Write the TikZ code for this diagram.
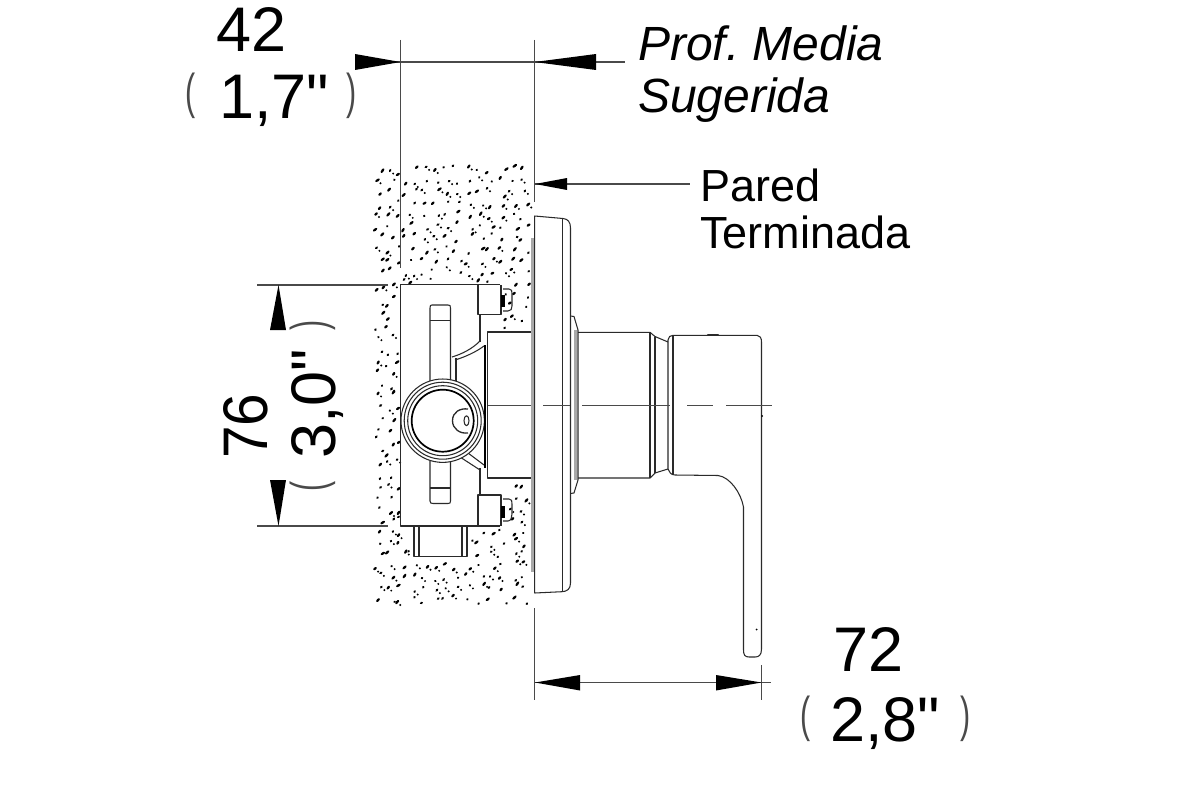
\documentclass[tikz,border=0pt]{standalone}
\usepackage{fontspec}
\setmainfont{Liberation Sans}
\newfontfamily\plainf{Liberation Sans}
\definecolor{ink}{HTML}{2A2A2A}
\definecolor{greyband}{HTML}{A8A8A8}
\definecolor{dimgrey}{HTML}{4A4A4A}
\newcommand{\thinparen}[1]{\scalebox{0.62}[1]{#1}}
\tikzset{
  outl/.style={draw=ink,line width=1.05pt,line join=round},
  thick outl/.style={draw=black,line width=1.7pt},
  band/.style={draw=greyband,line width=3pt},
  dimline/.style={draw=dimgrey,line width=1.05pt},
  centre/.style={draw=dimgrey,line width=1pt},
  tip/.style={fill=black,draw=none},
  bigtxt/.style={inner sep=0pt,anchor=base west,text=black,font=\fontsize{63}{63}\selectfont\plainf},
  medtxt/.style={inner sep=0pt,anchor=base west,text=black,font=\frenchspacing\fontsize{48}{48}\selectfont\itshape},
  smalltxt/.style={inner sep=0pt,anchor=base west,text=black,font=\fontsize{45}{45}\selectfont},
  paren/.style={inner sep=0pt,anchor=center,text=dimgrey,font=\fontsize{49}{49}\selectfont},
  grain/.style={fill=black,draw=none}
}
\begin{document}
\begin{tikzpicture}[x=1pt,y=-1pt]
\useasboundingbox (0,0) rectangle (1200,800);
\fill[white] (0,0) rectangle (1200,800);
% stipple of the wall: jittered grid
\pgfmathsetseed{4217}
\foreach \gx in {0,...,13}{
\foreach \gy in {0,...,38}{
  \pgfmathsetmacro{\px}{379+11.2*\gx+9*rnd-4.5}
  \pgfmathsetmacro{\py}{170+11.3*\gy+9*rnd-4.5}
  \pgfmathsetmacro{\keep}{ (\px>399 && \px<504 && \py>283 && \py<528) || (\px>412 && \px<470 && \py>=528 && \py<559) || (\px>=504 && \py>328 && \py<482) ? 0 : 1}
  \pgfmathsetmacro{\ang}{30+30*rnd}
  \pgfmathsetmacro{\ra}{1.2+1.5*rnd}
  \pgfmathsetmacro{\rb}{rnd}
  \ifdim\keep pt>0.5pt
    \fill[grain] (\px,\py) ellipse [x radius=\ra, y radius=1.25, rotate=\ang];
    \ifdim\rb pt>0.65pt
      \fill[grain] (\px+3,\py+3) circle (1.1);
    \fi
  \fi
}}
% coordinates of dimensions
\coordinate (a1) at (400.5,62); \coordinate (a2) at (534.5,62);
\coordinate (b1) at (535,184);
\coordinate (c1) at (278.5,285); \coordinate (c2) at (278.5,526);
\coordinate (d1) at (535,682.5); \coordinate (d2) at (761.5,682.5);
% extension lines
\draw[dimline] (400.5,40) -- (400.5,268);
\draw[dimline] (534.5,40) -- (534.5,202);
\draw[dimline] (534.7,608) -- (534.7,700);
\draw[dimline] (761.5,665) -- (761.5,700);
\draw[dimline] (257,285) -- (388,285);
\draw[dimline] (257,526) -- (388,526);
% dimension shafts
\draw[dimline] (355,62) -- (625,62);
\draw[dimline] (b1) -- (690,184);
\draw[dimline] (d1) -- (771,682.5);
% arrow tips
\fill[tip] (a1) -- (355,54) -- (355,70) -- cycle;
\fill[tip] (a2) -- (596,54) -- (596,70) -- cycle;
\fill[tip] (b1) -- (567,178) -- (567,190) -- cycle;
\fill[tip] (c1) -- (270,330) -- (286,330) -- cycle;
\fill[tip] (c2) -- (270,480) -- (286,480) -- cycle;
\fill[tip] (d1) -- (580,675) -- (580,690.5) -- cycle;
\fill[tip] (d2) -- (716,675) -- (716,690.5) -- cycle;
% mounting box
\draw[outl] (500,284.7) -- (400.7,284.7) -- (400.7,526) -- (500,526);
\draw[outl] (478,284.7) -- (478,314.5) -- (501,314.5) -- (501,284.7);
\draw[outl] (478,526) -- (478,495) -- (501,495) -- (501,526);
\draw[outl] (480,314.5) -- (480,342);
\draw[outl] (480,468) -- (480,495);
% screws
\draw[outl] (503,289) -- (509,289) .. controls (512,289) and (512,291) .. (512,294) -- (512,306) .. controls (512,309) and (511,311) .. (508,311) -- (503,311);
\fill[black] (501,295) rectangle (505,307);
\draw[outl] (503,499) -- (509,499) .. controls (512,499) and (512,501) .. (512,504) -- (512,514) .. controls (512,517) and (511,521) .. (508,521) -- (503,521);
\fill[black] (501,506) rectangle (505,518);
% slot
\draw[outl] (450.5,381) -- (450.5,308) .. controls (450.5,305.5) and (450,305) .. (448,305) -- (432,305) .. controls (430.5,305) and (430,305.5) .. (430,308) -- (430,381);
\draw[outl] (430,320.7) -- (450.5,320.7);
\draw[outl] (430,461) -- (430,501) .. controls (430,503) and (431,503.5) .. (433,503.5) -- (448,503.5) .. controls (450,503.5) and (450.5,503) .. (450.5,501) -- (450.5,461);
\draw[outl] (430,488) -- (450.5,488);
% ribs
\draw[outl] (452,357) .. controls (462,354) and (472,349) .. (480,341);
\draw[outl] (455,360) .. controls (465,357) and (476,352) .. (484,346);
\draw[outl] (456,358) -- (456,381);
\draw[outl] (460,457) -- (480,470);
\draw[outl] (468,453) -- (484,465);
% circles
\fill[white] (442.7,420.7) circle (41.7);
\draw[outl] (442.7,420.7) circle (41.7);
\draw[outl] (442.7,420.7) circle (38.5);
\draw[outl] (442.7,420.7) circle (35);
\draw[thick outl] (442.7,420.7) circle (31);
\draw[outl,line width=1.3pt] (468,409) .. controls (460,408) and (452.5,412) .. (452.5,420.7) .. controls (452.5,429) and (460,434) .. (468,433);
\draw[outl] (466.5,420.7) ellipse (2.5 and 5);
% stub
\draw[outl] (414,526) -- (414,556.5) -- (467,556.5) -- (467,526);
\draw[outl] (419,526) -- (419,556.5);
\draw[outl] (462,526) -- (462,556.5);
% rear body
\draw[outl] (531,332) -- (487.7,332) -- (487.7,478) -- (531,478);
\draw[thick outl] (485,345) -- (485,468);
% wall plate
\draw[band] (532.5,238) -- (532.5,572);
\draw[outl] (534.7,216) -- (534.7,593) -- (562,591.7) .. controls (567,591.5) and (570.5,589) .. (570.5,583) -- (570.5,228) .. controls (570.5,222) and (568,219) .. (563,218.5) -- cycle;
\draw[outl] (562.7,218.5) -- (562.7,591.7);
% flange
\draw[band,line width=2.6pt] (575.5,330) -- (575.5,480);
\draw[outl] (570.5,316) -- (574,316.5) -- (578,330) -- (578,480) -- (574,493) -- (570.5,493.5);
% neck and lever
\draw[outl] (578,332.3) -- (650,332.3) -- (655,336.5) -- (668,342);
\draw[outl] (578,478) -- (650,478) -- (655,473) -- (668,469);
\draw[outl] (650,332.3) -- (650,478);
\draw[outl] (655,336.5) -- (655,473);
\draw[outl] (668,340) .. controls (668.5,337) and (670,335.3) .. (673,335.3) -- (757,335.3) .. controls (760,335.3) and (761.5,338) .. (761.5,342) -- (761.5,649) .. controls (761.5,655) and (759,657) .. (755,657) -- (749,657) .. controls (745,657) and (743.5,655) .. (743.5,650) -- (743.5,507) .. controls (741,493) and (730,477) .. (718,475.5) -- (675,475) .. controls (671,475) and (669,472) .. (668,469) -- cycle;
\draw[outl] (673,335.3) -- (673,475);
\draw[outl,line width=2.2pt,line cap=round] (708,335) -- (718,335);
\fill[black] (762,416) circle (1);
\fill[black] (756.5,629.5) circle (1);
% centre line
\draw[centre] (488,405.7) -- (531,405.7);
\draw[centre] (543,405.7) -- (570,405.7);
\draw[centre] (582,405.7) -- (670,405.7);
\draw[centre] (687,405.7) -- (713,405.7);
\draw[centre] (726,405.7) -- (772,405.7);
% text
\node[bigtxt] (t42) at (216,52) {42};
\node[bigtxt] (t17) at (219,118) {1,7"};
\node[paren] (p17a) at (191,96) {\thinparen{(}};
\node[paren] (p17b) at (352,96) {\thinparen{)}};
\node[medtxt] (tprof) at (638,60) {Prof. Media};
\node[medtxt] (tsug) at (638,113) {Sugerida};
\node[smalltxt] (tpar) at (700,201) {Pared};
\node[smalltxt] (tter) at (700,248) {Terminada};
\node[bigtxt,rotate=90,xscale=0.93] (t76) at (267,459) {76};
\node[bigtxt,rotate=90] (t30) at (335,459) {3,0"};
\node[paren,rotate=90] (p30a) at (312.5,486) {\thinparen{(}};
\node[paren,rotate=90] (p30b) at (312.5,325) {\thinparen{)}};
\node[bigtxt] (t72) at (833,671) {72};
\node[bigtxt] (t28) at (830,741) {2,8"};
\node[paren] (p28a) at (806,719) {\thinparen{(}};
\node[paren] (p28b) at (966,719) {\thinparen{)}};
\end{tikzpicture}
\end{document}
